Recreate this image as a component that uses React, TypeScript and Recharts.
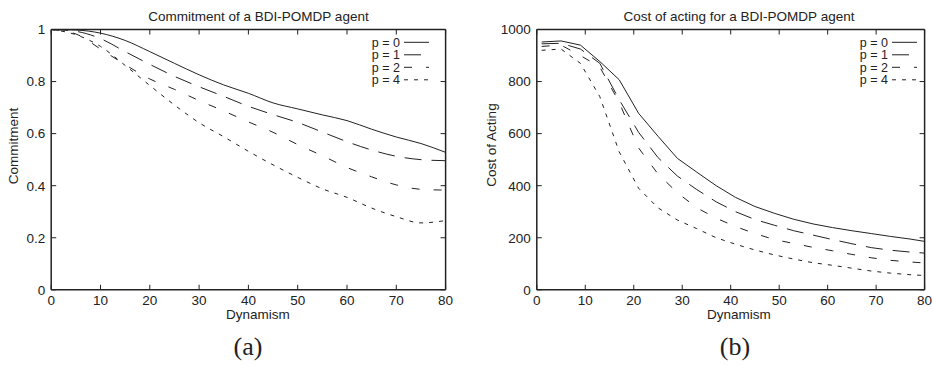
import React from 'react';
import { LineChart, Line, XAxis, YAxis, Legend } from 'recharts';

// ---------- data ----------
const commitX = [0, 5, 10, 15, 20, 25, 30, 35, 40, 45, 50, 55, 60, 65, 70, 75, 80];
const commitP0 = [1.0, 0.998, 0.986, 0.958, 0.915, 0.87, 0.826, 0.787, 0.755, 0.718, 0.695, 0.672, 0.65, 0.617, 0.587, 0.562, 0.528];
const commitP1 = [1.0, 0.993, 0.965, 0.915, 0.866, 0.82, 0.78, 0.743, 0.705, 0.673, 0.643, 0.606, 0.569, 0.537, 0.513, 0.5, 0.496];
const commitP2 = [1.0, 0.983, 0.925, 0.865, 0.81, 0.77, 0.727, 0.687, 0.645, 0.605, 0.558, 0.515, 0.47, 0.434, 0.403, 0.386, 0.383];
const commitP4 = [1.0, 0.98, 0.935, 0.862, 0.785, 0.71, 0.642, 0.588, 0.532, 0.48, 0.432, 0.388, 0.355, 0.314, 0.281, 0.257, 0.266];

const costX = [1, 5, 9, 13, 17, 21, 25, 29, 33, 37, 41, 45, 49, 53, 57, 61, 65, 69, 73, 77, 80];
const costP0 = [952, 956, 940, 877, 807, 678, 590, 505, 452, 400, 355, 320, 294, 271, 253, 239, 227, 216, 205, 195, 186];
const costP1 = [945, 947, 925, 870, 730, 605, 508, 437, 385, 338, 300, 270, 248, 227, 210, 193, 177, 162, 152, 145, 141];
const costP2 = [935, 940, 900, 856, 720, 545, 445, 373, 315, 275, 243, 216, 193, 178, 163, 150, 136, 123, 113, 107, 103];
const costP4 = [920, 925, 870, 742, 530, 390, 315, 268, 235, 200, 175, 153, 134, 118, 104, 94, 83, 72, 64, 58, 55];

const seriesKeys = ['p0', 'p1', 'p2', 'p4'];
const seriesNames = ['p = 0', 'p = 1', 'p = 2', 'p = 4'];
const xTicks = [0, 10, 20, 30, 40, 50, 60, 70, 80];
const commitTicks = [0, 0.2, 0.4, 0.6, 0.8, 1];
const costTicks = [0, 200, 400, 600, 800, 1000];

const commitData = commitX.map((x, i) => ({
  x, p0: commitP0[i], p1: commitP1[i], p2: commitP2[i], p4: commitP4[i],
}));
const costData = costX.map((x, i) => ({
  x, p0: costP0[i], p1: costP1[i], p2: costP2[i], p4: costP4[i],
}));

// ---------- style ----------
const INK = '#222';
const FONT = '"Liberation Sans", Arial, Helvetica, sans-serif';
const SERIF = '"Liberation Serif", "Times New Roman", serif';
const FS = 13.5;
const LEGEND_FS = 12.5;
const DASHES = ['', '17 10', '8 14', '4 6'];
const TICK_LEN = 5;
const LEFT_MARGIN = 6;
const BOTTOM_MARGIN = 15.5;

const LeftTick = (props: any) => {
  const { x, y, payload } = props;
  const ax = x + LEFT_MARGIN;
  return (
    <g>
      <line x1={ax} x2={ax + TICK_LEN} y1={y} y2={y} stroke={INK} strokeWidth={1} />
      <text x={x} y={y} dy="0.36em" textAnchor="end" fontSize={FS} fontFamily={FONT} fill={INK}>
        {payload.value}
      </text>
    </g>
  );
};

const BottomTick = (props: any) => {
  const { x, y, payload } = props;
  const ay = y - BOTTOM_MARGIN;
  return (
    <g>
      <line x1={x} x2={x} y1={ay} y2={ay - TICK_LEN} stroke={INK} strokeWidth={1} />
      <text x={x} y={y} textAnchor="middle" fontSize={FS} fontFamily={FONT} fill={INK}>
        {payload.value}
      </text>
    </g>
  );
};

const TopTick = (props: any) => {
  const { x, y } = props;
  return <line x1={x} x2={x} y1={y} y2={y + TICK_LEN} stroke={INK} strokeWidth={1} />;
};

const RightTick = (props: any) => {
  const { x, y } = props;
  return <line x1={x} x2={x - TICK_LEN} y1={y} y2={y} stroke={INK} strokeWidth={1} />;
};

const LegendBox = (props: any) => {
  const items = props.payload || [];
  return (
    <svg width={92} height={56} style={{ display: 'block', overflow: 'visible' }}>
      {items.map((it: any, i: number) => {
        const y = 8.3 + i * 12.5;
        const dash = (it.payload && it.payload.strokeDasharray) || DASHES[i] || undefined;
        return (
          <g key={i}>
            <text x={60} y={y} dy="0.36em" textAnchor="end" fontSize={LEGEND_FS} fontFamily={FONT} fill={INK}>
              {it.value}
            </text>
            <line x1={64} x2={89} y1={y} y2={y} stroke={INK} strokeWidth={1} strokeDasharray={dash} />
          </g>
        );
      })}
    </svg>
  );
};

type PanelProps = {
  data: any[];
  width: number;
  plot: { left: number; right: number; top: number; bottom: number };
  yDomain: [number, number];
  yTicks: number[];
  curve: 'monotone' | 'linear';
  legendLeft: number;
};

const axisLine = { stroke: INK, strokeWidth: 1.5 };

function Panel({ data, width, plot, yDomain, yTicks, curve, legendLeft }: PanelProps) {
  // every axis is 1px thick, so margins leave that pixel to it
  const margin = {
    top: plot.top - 1,
    bottom: 365 - plot.bottom - 1,
    left: plot.left - 1,
    right: width - plot.right - 1,
  };
  return (
    <LineChart width={width} height={365} data={data} margin={margin}>
      <XAxis xAxisId="b" dataKey="x" type="number" domain={[0, 80]} ticks={xTicks}
        allowDataOverflow height={1} tickSize={0} tickMargin={BOTTOM_MARGIN}
        tick={(p: any) => <BottomTick {...p} />} tickLine={false} axisLine={axisLine} interval={0} />
      <XAxis xAxisId="t" orientation="top" dataKey="x" type="number" domain={[0, 80]} ticks={xTicks}
        allowDataOverflow height={1} tickSize={0} tickMargin={0}
        tick={(p: any) => <TopTick {...p} />} tickLine={false} axisLine={axisLine} interval={0} />
      <YAxis yAxisId="l" type="number" domain={yDomain} ticks={yTicks} allowDataOverflow
        width={1} tickSize={0} tickMargin={LEFT_MARGIN}
        tick={(p: any) => <LeftTick {...p} />} tickLine={false} axisLine={axisLine} interval={0} />
      <YAxis yAxisId="r" orientation="right" type="number" domain={yDomain} ticks={yTicks} allowDataOverflow
        width={1} tickSize={0} tickMargin={0}
        tick={(p: any) => <RightTick {...p} />} tickLine={false} axisLine={axisLine} interval={0} />
      {seriesKeys.map((k, i) => (
        <Line key={k} xAxisId="b" yAxisId="l" dataKey={k} name={seriesNames[i]} type={curve}
          stroke={INK} strokeWidth={1} strokeDasharray={DASHES[i] || undefined}
          dot={false} activeDot={false} isAnimationActive={false} />
      ))}
      <Legend layout="vertical" align="center" verticalAlign="middle"
        wrapperStyle={{ top: 34, left: legendLeft, width: 92, height: 56 }}
        content={(p: any) => <LegendBox {...p} />} />
    </LineChart>
  );
}

const textStyle = { fontFamily: FONT, fontSize: FS, fill: INK } as const;

export default function App() {
  return (
    <div style={{ position: 'absolute', left: 0, top: 0, width: 934, height: 365, background: '#fff', overflow: 'hidden' }}>
      <div style={{ position: 'absolute', left: 0, top: 0 }}>
        <Panel data={commitData} width={460}
          plot={{ left: 51.2, right: 445.6, top: 29.5, bottom: 289.8 }}
          yDomain={[0, 1]} yTicks={commitTicks} curve="monotone" legendLeft={340} />
      </div>
      <div style={{ position: 'absolute', left: 470, top: 0 }}>
        <Panel data={costData} width={464}
          plot={{ left: 536.8 - 470, right: 924.6 - 470, top: 29.5, bottom: 289.8 }}
          yDomain={[0, 1000]} yTicks={costTicks} curve="linear" legendLeft={357.5} />
      </div>
      <svg width={934} height={365} style={{ position: 'absolute', left: 0, top: 0, pointerEvents: 'none' }}>
        <text x={258.5} y={21} textAnchor="middle" {...textStyle}>Commitment of a BDI-POMDP agent</text>
        <text x={739} y={21} textAnchor="middle" {...textStyle}>Cost of acting for a BDI-POMDP agent</text>
        <text x={258} y={319} textAnchor="middle" {...textStyle}>Dynamism</text>
        <text x={739} y={319} textAnchor="middle" {...textStyle}>Dynamism</text>
        <text x={18.3} y={146} textAnchor="middle" transform="rotate(-90 18.3 146)" {...textStyle}>Commitment</text>
        <text x={496.3} y={145} textAnchor="middle" transform="rotate(-90 496.3 145)" {...textStyle}>Cost of Acting</text>
        <text x={248} y={355} textAnchor="middle" fontFamily={SERIF} fontSize={26} fill={INK}>(a)</text>
        <text x={735} y={355} textAnchor="middle" fontFamily={SERIF} fontSize={26} fill={INK}>(b)</text>
      </svg>
    </div>
  );
}
